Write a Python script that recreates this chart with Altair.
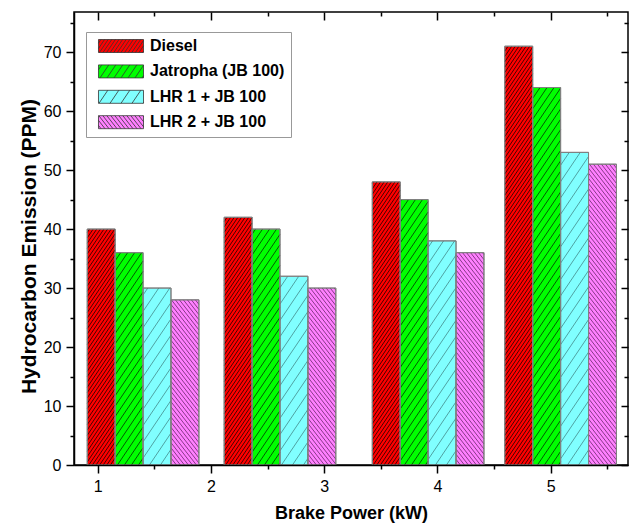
import math
import altair as alt
import pandas as pd

# ---------------- data ----------------
series = ["Diesel", "Jatropha (JB 100)", "LHR 1 + JB 100", "LHR 2 + JB 100"]
diesel = [40, 42, 48, 71]
jatropha = [36, 40, 45, 64]
lhr1 = [30, 32, 38, 53]
lhr2 = [28, 30, 36, 51]
group_left = [0.908, 2.117, 3.425, 4.595]   # left edge of each bar group (x units)
bar_width = 0.2465

x_ticks = [1, 2, 3, 4, 5]
x_minor = [1.5, 2.5, 3.5, 4.5, 5.5]
y_ticks = [0, 10, 20, 30, 40, 50, 60, 70]
y_minor = [5, 15, 25, 35, 45, 55, 65, 75]
x_domain = [0.791, 5.683]
y_domain = [0, 76.8]

# ---------------- styles ----------------
colors = ["#FF0000", "#00FF00", "#80FFFF", "#FF80FF"]
hatch_spacing = [3.6, 7.0, 11.0, 4.0]      # px, horizontal
hatch_dir = ["/", "/", "/", "\\"]
hatch_angle = [56, 56, 56, 52]
hatch_color = ["#000000", "#000000", "#1a3a3a", "#2a002a"]
hatch_opacity = [0.9, 0.8, 0.6, 0.7]

W, H = 554, 453
FONT = "Liberation Sans"

values = [diesel, jatropha, lhr1, lhr2]
kx = W / (x_domain[1] - x_domain[0])
ky = H / (y_domain[1] - y_domain[0])


def hatch(u0, u1, v0, v1, spacing, angle, direction):
    t = math.tan(math.radians(angle))
    run = (v1 - v0) / t
    segs = []
    if direction == "/":
        k0 = math.floor((u0 - run) / spacing)
        k1 = math.ceil(u1 / spacing)
        for k in range(k0, k1 + 1):
            c = k * spacing
            ua, ub = max(u0, c), min(u1, c + run)
            if ub - ua > 1e-6:
                segs.append((ua, v0 + t * (ua - c), ub, v0 + t * (ub - c)))
    else:
        k0 = math.floor(u0 / spacing)
        k1 = math.ceil((u1 + run) / spacing)
        for k in range(k0, k1 + 1):
            c = k * spacing
            ua, ub = max(u0, c - run), min(u1, c)
            if ub - ua > 1e-6:
                segs.append((ua, v0 + t * (c - ua), ub, v0 + t * (c - ub)))
    return segs


bar_rows, hatch_rows = [], []
for i, s in enumerate(series):
    for g, left in enumerate(group_left):
        x0 = left + i * bar_width
        x1 = x0 + bar_width
        v = values[i][g]
        bar_rows.append({"series": s, "x0": x0, "x1": x1, "xc": (x0 + x1) / 2,
                         "value": v, "base": 0})
        for ua, va, ub, vb in hatch(x0 * kx, x1 * kx, 0, v * ky,
                                    hatch_spacing[i], hatch_angle[i], hatch_dir[i]):
            hatch_rows.append({"series": s, "xa": ua / kx, "ya": va / ky,
                               "xb": ub / kx, "yb": vb / ky,
                               "hc": hatch_color[i], "ho": hatch_opacity[i]})

bars_df = pd.DataFrame(bar_rows)
hatch_df = pd.DataFrame(hatch_rows)

# legend swatch paths (45 x 13 px), unit = 6.5 px
SW, SH, U = 45.0, 13.0, 6.5
paths = []
for i in range(len(series)):
    a, b = SW / 2 / U, SH / 2 / U
    p = f"M{-a:.3f},{-b:.3f}L{a:.3f},{-b:.3f}L{a:.3f},{b:.3f}L{-a:.3f},{b:.3f}Z"
    for ua, va, ub, vb in hatch(-SW / 2, SW / 2, -SH / 2, SH / 2,
                                hatch_spacing[i], hatch_angle[i], hatch_dir[i]):
        p += f"M{ua / U:.3f},{-va / U:.3f}L{ub / U:.3f},{-vb / U:.3f}"
    paths.append(p)

xs = alt.Scale(domain=x_domain, nice=False, zero=False)
ys = alt.Scale(domain=y_domain, nice=False, zero=False)

legend = alt.Legend(
    title=None, orient="none", legendX=12, legendY=20,
    labelFont=FONT, labelFontSize=16, labelFontWeight="bold", labelColor="black",
    symbolSize=U * U * 4, symbolStrokeWidth=0.8,
    symbolOpacity=1, strokeColor="#999999", fillColor="white",
    padding=6, rowPadding=7.4, labelOffset=21, symbolOffset=21,
)

legend_layer = alt.Chart(bars_df).mark_point(
    filled=True, opacity=0, size=10, stroke="#333333", strokeWidth=0.8
).encode(
    x=alt.X("xc:Q", scale=xs, axis=None),
    y=alt.Y("value:Q", scale=ys, axis=None),
    fill=alt.Fill("series:N", scale=alt.Scale(domain=series, range=colors), legend=legend),
    shape=alt.Shape("series:N", scale=alt.Scale(domain=series, range=paths), legend=legend),
)

ax_common = dict(grid=False, tickColor="black", tickWidth=1.5, zindex=1,
                 labelFont=FONT, labelFontSize=16, labelColor="black",
                 titleFont=FONT, titleFontWeight="bold",
                 titleColor="black", labelFlush=False, labelOverlap=False)

bars = alt.Chart(bars_df).mark_rect(stroke="#808080", strokeWidth=1).encode(
    x=alt.X("x0:Q", scale=xs, axis=alt.Axis(
        values=x_ticks, format="d", tickSize=8, labelPadding=5,
        title="Brake Power (kW)", titlePadding=10, titleFontSize=18,
        domain=True, domainColor="black", domainWidth=1.5, **ax_common)),
    x2="x1:Q",
    y=alt.Y("value:Q", scale=ys, axis=alt.Axis(
        values=y_ticks, format="d", tickSize=8, labelPadding=5,
        title="Hydrocarbon Emission (PPM)", titlePadding=4, titleFontSize=21,
        titleY=234,
        domain=True, domainColor="black", domainWidth=1.5, **ax_common)),
    y2="base:Q",
    fill=alt.Fill("series:N", scale=alt.Scale(domain=series, range=colors), legend=None),
)

hatch_layer = alt.Chart(hatch_df).mark_rule(strokeWidth=0.8).encode(
    x=alt.X("xa:Q", scale=xs, axis=None),
    y=alt.Y("ya:Q", scale=ys, axis=None),
    x2="xb:Q",
    y2="yb:Q",
    stroke=alt.Stroke("hc:N", scale=None),
    strokeOpacity=alt.StrokeOpacity("ho:Q", scale=None),
)

outline = alt.Chart(bars_df).mark_rect(fillOpacity=0, stroke="#808080", strokeWidth=1).encode(
    x=alt.X("x0:Q", scale=xs, axis=None), x2="x1:Q",
    y=alt.Y("value:Q", scale=ys, axis=None), y2="base:Q",
)


def axis_layer(xaxis, yaxis):
    return alt.Chart(bars_df).mark_point(opacity=0).encode(
        x=alt.X("xc:Q", scale=xs, axis=xaxis),
        y=alt.Y("value:Q", scale=ys, axis=yaxis),
    )


minor_ax = dict(labels=False, title=None, domain=False, **ax_common)
minor_bl = axis_layer(
    alt.Axis(orient="bottom", values=x_minor, tickSize=4, **minor_ax),
    alt.Axis(orient="left", values=y_minor, tickSize=4, **minor_ax),
)
major_tr = axis_layer(
    alt.Axis(orient="top", values=x_ticks, tickSize=8, offset=-8, **minor_ax),
    alt.Axis(orient="right", values=y_ticks, tickSize=7, offset=-7, **minor_ax),
)
minor_tr = axis_layer(
    alt.Axis(orient="top", values=x_minor, tickSize=4, offset=-4, **minor_ax),
    alt.Axis(orient="right", values=y_minor, tickSize=4, offset=-4, **minor_ax),
)

chart = alt.layer(
    legend_layer, bars, hatch_layer, outline, minor_bl, major_tr, minor_tr
).resolve_scale(
    fill="independent", shape="independent"
).resolve_axis(
    x="independent", y="independent"
).properties(
    width=W, height=H,
    padding={"left": 74, "top": 12, "right": 2, "bottom": 58},
    autosize=alt.AutoSizeParams(type="none"),
    background="white",
).configure_view(
    stroke="black", strokeWidth=1.5
)

chart.save("out.html", embed_options={"renderer": "svg", "actions": False})
